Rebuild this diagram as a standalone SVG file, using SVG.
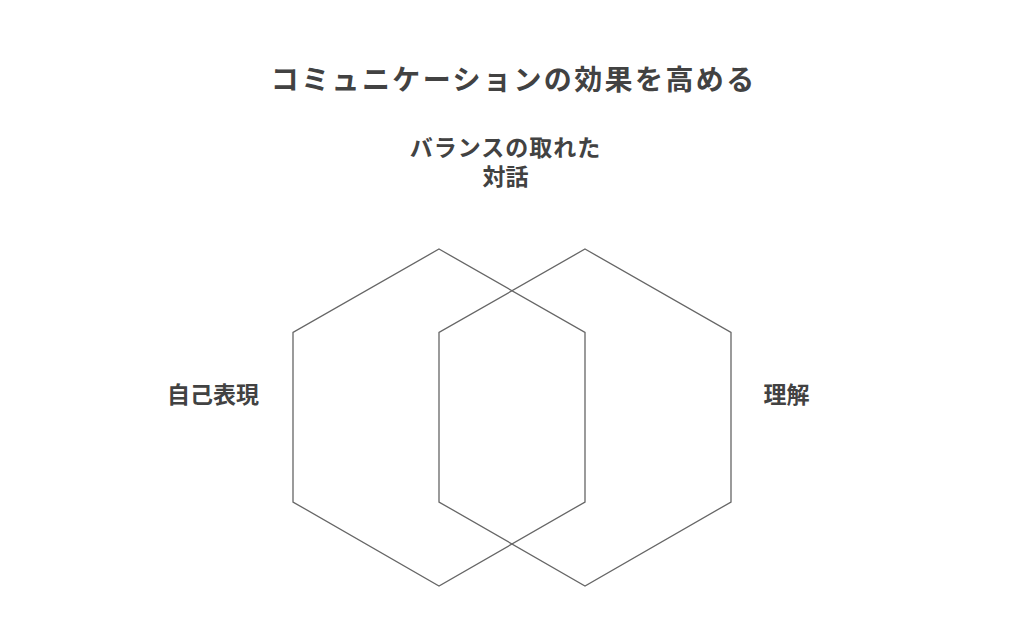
<svg xmlns="http://www.w3.org/2000/svg" width="1024" height="644" viewBox="0 0 1024 644">
<style>
.t{font-family:"Noto Sans CJK JP","Noto Sans CJK SC",sans-serif;font-weight:bold;fill:#424242;text-anchor:middle}
.hex{fill:none;stroke:#666;stroke-width:1.3}
</style>
<rect width="1024" height="644" fill="#fff"/>
<text class="t" x="513.7" y="89.5" font-size="28" letter-spacing="2.4">コミュニケーションの効果を高める</text>
<g id="left-hex"><polygon class="hex" points="439,249 585,332.5 585,502 439,586 293,502 293,332.5"/></g>
<g id="right-hex"><polygon class="hex" points="585,249 731,332.5 731,502 585,586 439,502 439,332.5"/></g>
<g id="connectors"></g>
<g id="label-top"><text class="t" font-size="23" x="505.5" y="156" letter-spacing="1">バランスの取れた</text><text class="t" font-size="23" x="505.5" y="184.5">対話</text></g>
<g id="label-left"><text class="t" font-size="23" x="213" y="403">自己表現</text></g>
<g id="label-right"><text class="t" font-size="23" x="786.5" y="403">理解</text></g>
</svg>
